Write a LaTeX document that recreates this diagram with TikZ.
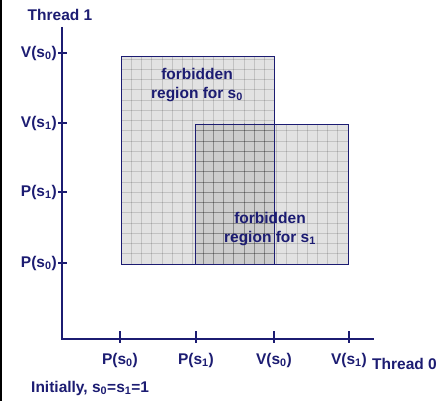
\documentclass[tikz,border=0pt]{standalone}
\usepackage{fontspec}
\setmainfont{Liberation Sans}[BoldFont={Liberation Sans Bold}]
\definecolor{navy}{HTML}{1C1C72}
\definecolor{regfill}{HTML}{E2E2E2}
\definecolor{overlap}{HTML}{CCCCCC}
\newcommand{\sub}[1]{\textsubscript{#1}}
\begin{document}
\begin{tikzpicture}[x=1pt,y=-1pt,
  lab/.style={text=navy,font=\fontsize{15.5}{18.5}\selectfont\bfseries,inner sep=0pt},
  axisline/.style={draw=navy,line width=2pt},
  tickline/.style={draw=navy,line width=1.6pt},
  regionedge/.style={draw=navy,line width=0.9pt},
  gridline/.style={draw=black,draw opacity=0.14,line width=0.8pt},
  gridlinedark/.style={draw=black,draw opacity=0.22,line width=0.8pt}]
\useasboundingbox (0,0) rectangle (440,401);
\fill[black] (0,0) rectangle (2,401);

% regions
\coordinate (A0) at (121,56);
\coordinate (B0) at (274,264);
\coordinate (A1) at (195,124);
\coordinate (B1) at (348,264);
\fill[regfill] (A0) rectangle (B0);
\fill[regfill] (A1) rectangle (B1);
\fill[overlap] (A1) rectangle (B0);
\begin{scope}
  \clip (A0) rectangle (B0);
  \foreach \x in {0,...,15} \draw[gridline] (121+\x*10.25,56) -- (121+\x*10.25,264);
  \foreach \y in {0,...,21} \draw[gridline] (121,264-\y*10.25) -- (274,264-\y*10.25);
\end{scope}
\begin{scope}
  \clip (A1) rectangle (B0);
  \foreach \x in {0,...,15} \draw[gridlinedark] (121+\x*10.25,56) -- (121+\x*10.25,264);
  \foreach \y in {0,...,21} \draw[gridlinedark] (121,264-\y*10.25) -- (274,264-\y*10.25);
\end{scope}
\begin{scope}
  \clip (B0 |- A1) rectangle (B1);
  \foreach \x in {0,...,15} \draw[gridline] (195+\x*10.2,124) -- (195+\x*10.2,264);
  \foreach \y in {0,...,14} \draw[gridline] (195,264-\y*10.25) -- (348,264-\y*10.25);
\end{scope}
\draw[regionedge] (A0) rectangle (B0);
\draw[regionedge] (A1) rectangle (B1);

\node[lab,align=center] (lab0) at (197,85) {forbidden\\region for s\sub{0}};
\node[lab,align=center] (lab1) at (270,229) {forbidden\\region for s\sub{1}};

% axes
\coordinate (O) at (62,339);
\coordinate (ytop) at (62,27);
\coordinate (xend) at (374,339);
\draw[axisline] (ytop) -- (O) -- (xend);

% y ticks
\foreach \n/\y/\t in {v0/53/V(s\sub{0}),v1/123/V(s\sub{1}),p1/192/P(s\sub{1}),p0/263/P(s\sub{0})}{
  \coordinate (yt\n) at (62,\y);
  \draw[tickline] ([xshift=-4pt]yt\n) -- ([xshift=5pt]yt\n);
  \node[lab,anchor=east] (yl\n) at (57,\y) {\t};
}
% x ticks
\foreach \n/\x/\t in {p0/120/P(s\sub{0}),p1/196/P(s\sub{1}),v0/274/V(s\sub{0}),v1/349/V(s\sub{1})}{
  \coordinate (xt\n) at (\x,339);
  \draw[tickline] ([yshift=-4pt]xt\n) -- ([yshift=8pt]xt\n);
  \node[lab] (xl\n) at (\x,360) {\t};
}
\node[lab] (t1) at (60,15) {Thread 1};
\node[lab,anchor=west] (t0) at (372,364) {Thread 0};
\node[lab,anchor=west] (init) at (31,388) {Initially, s\sub{0}=s\sub{1}=1};
\end{tikzpicture}
\end{document}
